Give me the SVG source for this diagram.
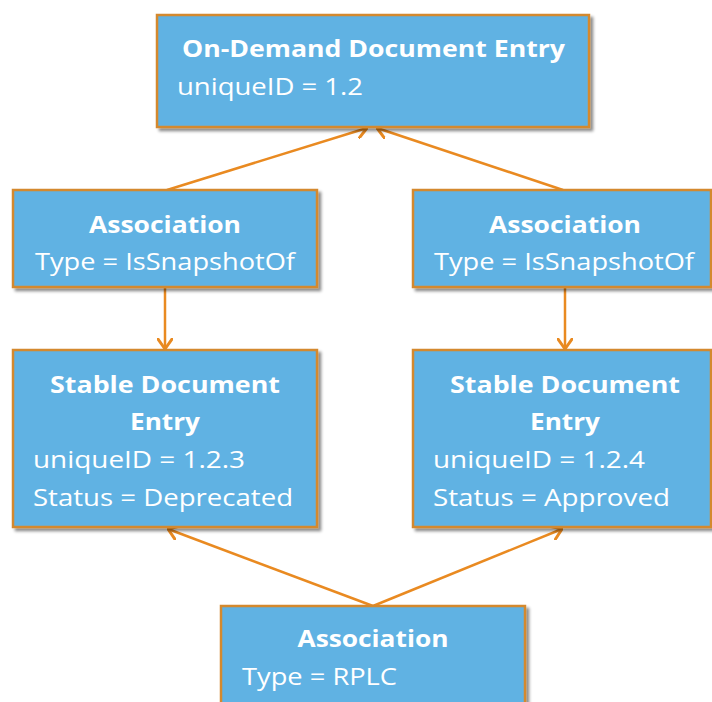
<svg xmlns="http://www.w3.org/2000/svg" width="712" height="702" viewBox="0 0 712 702">
<defs>
<filter id="sh" x="-5%" y="-5%" width="115%" height="120%">
<feDropShadow dx="3" dy="3" stdDeviation="1.5" flood-color="#000" flood-opacity="0.45"/>
</filter>
<marker id="ah" viewBox="0 0 12 16" refX="11" refY="8" markerWidth="12" markerHeight="16" markerUnits="userSpaceOnUse" orient="auto">
<path d="M1,1 L11,8 L1,15" fill="none" stroke="#e98a21" stroke-width="3" stroke-linecap="round" stroke-linejoin="round"/>
</marker>
<style>
.box{fill:#61b2e3;stroke:#d4892e;stroke-width:2.5;filter:url(#sh)}
.b{font-family:"Open Sans","Liberation Sans",sans-serif;font-weight:bold;font-size:24px;fill:#fff}
.r{font-family:"Open Sans","Liberation Sans",sans-serif;font-size:24px;fill:#fff}
.c{stroke:#e98a21;stroke-width:2.5;fill:none;marker-end:url(#ah)}
</style>
</defs>
<g id="connectors">
<line class="c" x1="167" y1="190" x2="367" y2="128"/>
<line class="c" x1="563" y1="190" x2="377" y2="128"/>
<line class="c" x1="165" y1="287" x2="165" y2="349"/>
<line class="c" x1="565" y1="287" x2="565" y2="349"/>
<line class="c" x1="373" y1="606" x2="168" y2="529"/>
<line class="c" x1="373" y1="606" x2="562" y2="529"/>
</g>
<g id="ondemand">
<rect class="box" x="157" y="15" width="432" height="112"/>
<text class="b" x="373.5" y="57" text-anchor="middle" textLength="383" lengthAdjust="spacingAndGlyphs">On-Demand Document Entry</text>
<text class="r" x="177" y="95" textLength="186" lengthAdjust="spacingAndGlyphs">uniqueID = 1.2</text>
</g>
<g id="assocLeft">
<rect class="box" x="13" y="190" width="304" height="97"/>
<text class="b" x="165" y="233" text-anchor="middle" textLength="152" lengthAdjust="spacingAndGlyphs">Association</text>
<text class="r" x="35" y="270" textLength="260" lengthAdjust="spacingAndGlyphs">Type = IsSnapshotOf</text>
</g>
<g id="assocRight">
<rect class="box" x="413" y="190" width="298" height="97"/>
<text class="b" x="565" y="233" text-anchor="middle" textLength="152" lengthAdjust="spacingAndGlyphs">Association</text>
<text class="r" x="434" y="270" textLength="260" lengthAdjust="spacingAndGlyphs">Type = IsSnapshotOf</text>
</g>
<g id="stableLeft">
<rect class="box" x="13" y="350" width="304" height="177"/>
<text class="b" x="165" y="393" text-anchor="middle" textLength="230" lengthAdjust="spacingAndGlyphs">Stable Document</text>
<text class="b" x="165" y="430" text-anchor="middle" textLength="70" lengthAdjust="spacingAndGlyphs">Entry</text>
<text class="r" x="33" y="468" textLength="212" lengthAdjust="spacingAndGlyphs">uniqueID = 1.2.3</text>
<text class="r" x="33" y="506" textLength="260" lengthAdjust="spacingAndGlyphs">Status = Deprecated</text>
</g>
<g id="stableRight">
<rect class="box" x="413" y="350" width="298" height="177"/>
<text class="b" x="565" y="393" text-anchor="middle" textLength="230" lengthAdjust="spacingAndGlyphs">Stable Document</text>
<text class="b" x="565" y="430" text-anchor="middle" textLength="70" lengthAdjust="spacingAndGlyphs">Entry</text>
<text class="r" x="433" y="468" textLength="212" lengthAdjust="spacingAndGlyphs">uniqueID = 1.2.4</text>
<text class="r" x="433" y="506" textLength="237" lengthAdjust="spacingAndGlyphs">Status = Approved</text>
</g>
<g id="assocBottom">
<rect class="box" x="221" y="606" width="304" height="110"/>
<text class="b" x="373" y="647" text-anchor="middle" textLength="151" lengthAdjust="spacingAndGlyphs">Association</text>
<text class="r" x="242" y="685" textLength="155" lengthAdjust="spacingAndGlyphs">Type = RPLC</text>
</g>
</svg>
